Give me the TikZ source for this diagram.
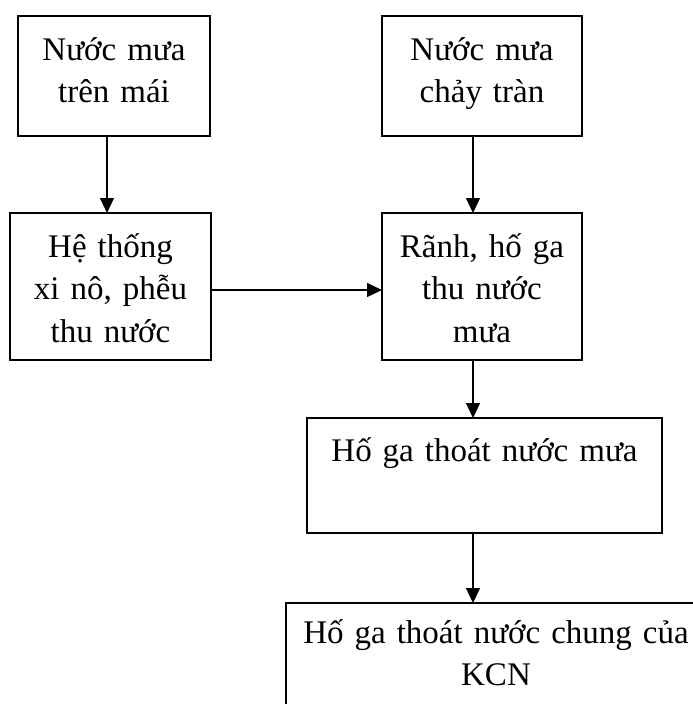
\documentclass[tikz,border=0pt]{standalone}
\usepackage{fontspec}
\setmainfont{Liberation Serif}[WordSpace=0.8]
\usetikzlibrary{arrows.meta}
\tikzset{
  box/.style={draw, line width=1.2pt, inner sep=0pt, outer sep=0pt, anchor=north west},
  lbl/.style={anchor=base, align=center, text width=#1, inner sep=0pt, font=\fontsize{33}{42.5}\selectfont},
  arr/.style={line width=1.2pt, -{Triangle[length=15pt,width=14pt]}}
}
\begin{document}
\begin{tikzpicture}[x=1pt,y=-1pt]
\useasboundingbox (0,0) rectangle (693,704);
\clip (0,0) rectangle (693,704);
% boxes
\node[box, minimum width=192pt, minimum height=120pt] (b1) at (18,16) {};
\node[box, minimum width=200pt, minimum height=120pt] (b2) at (382,16) {};
\node[box, minimum width=201pt, minimum height=147pt] (b3) at (10,213) {};
\node[box, minimum width=200pt, minimum height=147pt] (b4) at (382,213) {};
\node[box, minimum width=355pt, minimum height=115pt] (b5) at (307,418) {};
\node[box, minimum width=424pt, minimum height=120pt] (b6) at (286,603) {};
% labels
\node[lbl=200pt] (t1) at (114,60) {Nước mưa\\trên mái};
\node[lbl=200pt] (t2) at (482,60) {Nước mưa\\chảy tràn};
\node[lbl=200pt] (t3) at (110.5,257) {Hệ thống\\xi nô, phễu\\thu nước};
\node[lbl=200pt] (t4) at (482,257) {Rãnh, hố ga\\thu nước\\mưa};
\node[lbl=350pt] (t5) at (484.5,461) {Hố ga thoát nước mưa};
\node[lbl=420pt] (t6) at (496,643) {Hố ga thoát nước chung của\\KCN};
% connector x positions
\coordinate (cl) at (107,0);
\coordinate (cr) at (473,0);
\coordinate (ch) at (0,290);
% connectors
\draw[arr] (b1.south -| cl) -- (b3.north -| cl);
\draw[arr] (b2.south -| cr) -- (b4.north -| cr);
\draw[arr] (b3.east |- ch) -- (b4.west |- ch);
\draw[arr] (b4.south -| cr) -- (b5.north -| cr);
\draw[arr] (b5.south -| cr) -- (b6.north -| cr);
\end{tikzpicture}
\end{document}
